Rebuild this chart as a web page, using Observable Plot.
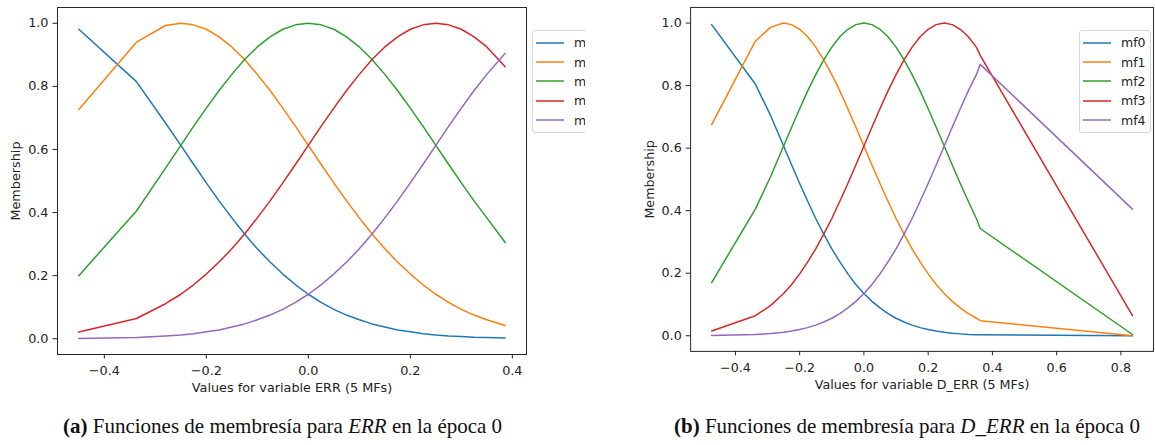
<!DOCTYPE html>
<html>
<head>
<meta charset="utf-8">
<script src="https://cdn.jsdelivr.net/npm/d3@7"></script>
<script src="https://cdn.jsdelivr.net/npm/@observablehq/plot@0.6"></script>
<style>
  html, body { margin: 0; padding: 0; background: #fff; width: 1155px; height: 445px; overflow: hidden; }
  .panel { position: absolute; top: 0; overflow: hidden; }
  .panel svg text { font-size: 12.8px !important; font-family: "DejaVu Sans", sans-serif !important; fill: #222; }
  .legend { position: absolute; top: 30px; box-sizing: border-box; height: 103px; border: 1px solid #d6d6d6; border-radius: 3px; background: rgba(255,255,255,0.85); padding: 2px 0 0 0; font-family: "DejaVu Sans", sans-serif; font-size: 12.5px; color: #222; }
  .legend .row { height: 19.4px; display: flex; align-items: center; white-space: nowrap; }
  .legend svg { display: block; margin-left: 3px; margin-right: 10px; }
  .caption { position: absolute; top: 414px; font-family: "Liberation Serif", "Times New Roman", serif; font-size: 21px; line-height: 24px; color: #111; white-space: nowrap; }
</style>
</head>
<body>
<div id="left" class="panel" style="left:0px;width:585px;height:400px;"></div>
<div id="right" class="panel" style="left:590px;width:565px;height:400px;"></div>
<div class="caption" style="left:63px;"><b>(a)</b> Funciones de membresía para <i>ERR</i> en la época 0</div>
<div class="caption" style="left:674px;"><b>(b)</b> Funciones de membresía para <i>D_ERR</i> en la época 0</div>
<script>
// ---- Data ----
const seriesNames = ["mf0", "mf1", "mf2", "mf3", "mf4"];
const seriesColors = ["#1f77b4", "#ff7f0e", "#2ca02c", "#d62728", "#9467bd"];
const yTicks = [0, 0.2, 0.4, 0.6, 0.8, 1.0];

// Panel (a): variable ERR
const errX = [-0.450, -0.337, -0.280, -0.25, -0.225, -0.2, -0.175, -0.15, -0.125, -0.1, -0.075, -0.05, -0.025, 0, 0.025, 0.05, 0.075, 0.1, 0.125, 0.15, 0.175, 0.2, 0.225, 0.25, 0.275, 0.3, 0.325, 0.35, 0.386];
const errMf0 = [0.981, 0.815, 0.684, 0.613, 0.553, 0.494, 0.437, 0.383, 0.332, 0.285, 0.243, 0.205, 0.171, 0.141, 0.115, 0.093, 0.075, 0.060, 0.047, 0.037, 0.028, 0.022, 0.016, 0.012, 0.009, 0.007, 0.005, 0.004, 0.002];
const errMf1 = [0.727, 0.940, 0.993, 1.000, 0.995, 0.981, 0.957, 0.925, 0.885, 0.838, 0.787, 0.731, 0.673, 0.613, 0.553, 0.494, 0.437, 0.383, 0.332, 0.285, 0.243, 0.205, 0.171, 0.141, 0.115, 0.093, 0.075, 0.060, 0.042];
const errMf2 = [0.200, 0.405, 0.541, 0.613, 0.673, 0.731, 0.787, 0.838, 0.885, 0.925, 0.957, 0.981, 0.995, 1.000, 0.995, 0.981, 0.957, 0.925, 0.885, 0.838, 0.787, 0.731, 0.673, 0.613, 0.553, 0.494, 0.437, 0.383, 0.305];
const errMf3 = [0.021, 0.064, 0.111, 0.141, 0.171, 0.205, 0.243, 0.285, 0.332, 0.383, 0.437, 0.494, 0.553, 0.613, 0.673, 0.731, 0.787, 0.838, 0.885, 0.925, 0.957, 0.981, 0.995, 1.000, 0.995, 0.981, 0.957, 0.925, 0.862];
const errMf4 = [0.001, 0.004, 0.009, 0.012, 0.016, 0.022, 0.028, 0.037, 0.047, 0.060, 0.075, 0.093, 0.115, 0.141, 0.171, 0.205, 0.243, 0.285, 0.332, 0.383, 0.437, 0.494, 0.553, 0.613, 0.673, 0.731, 0.787, 0.838, 0.905];
const errTicks = [-0.4, -0.2, 0, 0.2, 0.4];

// Panel (b): variable D_ERR
const derrX = [-0.474, -0.338, -0.29, -0.25, -0.225, -0.2, -0.175, -0.15, -0.125, -0.1, -0.075, -0.05, -0.025, 0, 0.025, 0.05, 0.075, 0.1, 0.125, 0.15, 0.175, 0.2, 0.225, 0.25, 0.275, 0.3, 0.325, 0.35, 0.362, 0.836];
const derrMf0 = [0.995, 0.805, 0.703, 0.607, 0.546, 0.487, 0.430, 0.375, 0.325, 0.278, 0.236, 0.198, 0.164, 0.135, 0.110, 0.089, 0.071, 0.056, 0.044, 0.034, 0.026, 0.020, 0.015, 0.011, 0.008, 0.006, 0.004, 0.003, 0.003, 0.000];
const derrMf1 = [0.675, 0.942, 0.987, 1.000, 0.995, 0.980, 0.956, 0.923, 0.882, 0.835, 0.783, 0.726, 0.667, 0.607, 0.546, 0.487, 0.430, 0.375, 0.325, 0.278, 0.236, 0.198, 0.164, 0.135, 0.110, 0.089, 0.071, 0.056, 0.048, 0.000];
const derrMf2 = [0.170, 0.405, 0.510, 0.607, 0.667, 0.726, 0.783, 0.835, 0.882, 0.923, 0.956, 0.980, 0.995, 1.000, 0.995, 0.980, 0.956, 0.923, 0.882, 0.835, 0.783, 0.726, 0.667, 0.607, 0.546, 0.487, 0.430, 0.375, 0.343, 0.004];
const derrMf3 = [0.015, 0.064, 0.097, 0.135, 0.164, 0.198, 0.236, 0.278, 0.325, 0.375, 0.430, 0.487, 0.546, 0.607, 0.667, 0.726, 0.783, 0.835, 0.882, 0.923, 0.956, 0.980, 0.995, 1.000, 0.995, 0.980, 0.956, 0.923, 0.897, 0.064];
const derrMf4 = [0.001, 0.004, 0.007, 0.011, 0.015, 0.020, 0.026, 0.034, 0.044, 0.056, 0.071, 0.089, 0.110, 0.135, 0.164, 0.198, 0.236, 0.278, 0.325, 0.375, 0.430, 0.487, 0.546, 0.607, 0.667, 0.726, 0.783, 0.835, 0.868, 0.405];
const derrTicks = [-0.4, -0.2, 0, 0.2, 0.4, 0.6, 0.8];

// ---- Build long tables ----
function longTable(xs, cols) {
  const rows = [];
  cols.forEach((vals, i) => xs.forEach((x, j) => rows.push({x, y: vals[j], mf: seriesNames[i]})));
  return rows;
}
const errData = longTable(errX, [errMf0, errMf1, errMf2, errMf3, errMf4]);
const derrData = longTable(derrX, [derrMf0, derrMf1, derrMf2, derrMf3, derrMf4]);

function pad(xs) {
  const lo = d3.min(xs), hi = d3.max(xs), m = (hi - lo) * 0.05;
  return [lo - m, hi + m];
}

function makePlot(data, xs, ticks, xLabel, opts) {
  return Plot.plot({
    width: opts.width,
    height: 400,
    marginLeft: opts.marginLeft,
    marginRight: opts.marginRight,
    marginTop: 7,
    marginBottom: 46,
    style: {fontFamily: "DejaVu Sans, sans-serif", fontSize: "12.8px", color: "#222", background: "transparent"},
    x: {domain: pad(xs), ticks: ticks, tickFormat: d3.format(".1f"), label: xLabel, labelAnchor: "center", labelOffset: 37.5, labelArrow: "none", tickSize: 4.5, tickPadding: 7},
    y: {domain: [-0.05, 1.05], ticks: yTicks, tickFormat: d3.format(".1f"), label: "Membership", labelAnchor: "center", labelOffset: 46.5, labelArrow: "none", tickSize: 4.5, tickPadding: 4.5},
    color: {domain: seriesNames, range: seriesColors},
    marks: [
      Plot.line(data, {x: "x", y: "y", z: "mf", stroke: "mf", strokeWidth: 1.5}),
      Plot.frame({stroke: "#262626", strokeWidth: 1})
    ]
  });
}

function makeLegend(container, leftPx, width) {
  const box = d3.select(container).append("div").attr("class", "legend")
    .style("left", leftPx + "px").style("width", width + "px");
  seriesNames.forEach((name, i) => {
    const row = box.append("div").attr("class", "row");
    const s = row.append("svg").attr("width", 28).attr("height", 4);
    s.append("line").attr("x1", 0).attr("x2", 28).attr("y1", 2).attr("y2", 2)
      .attr("stroke", seriesColors[i]).attr("stroke-width", 1.5);
    row.append("span").text(name);
  });
}

const left = document.getElementById("left");
left.append(makePlot(errData, errX, errTicks, "Values for variable ERR (5 MFs)", {width: 585, marginLeft: 57, marginRight: 59}));
makeLegend(left, 532, 72);

const right = document.getElementById("right");
right.append(makePlot(derrData, derrX, derrTicks, "Values for variable D_ERR (5 MFs)", {width: 570, marginLeft: 101, marginRight: 2}));
makeLegend(right, 489, 72);
</script>
</body>
</html>
